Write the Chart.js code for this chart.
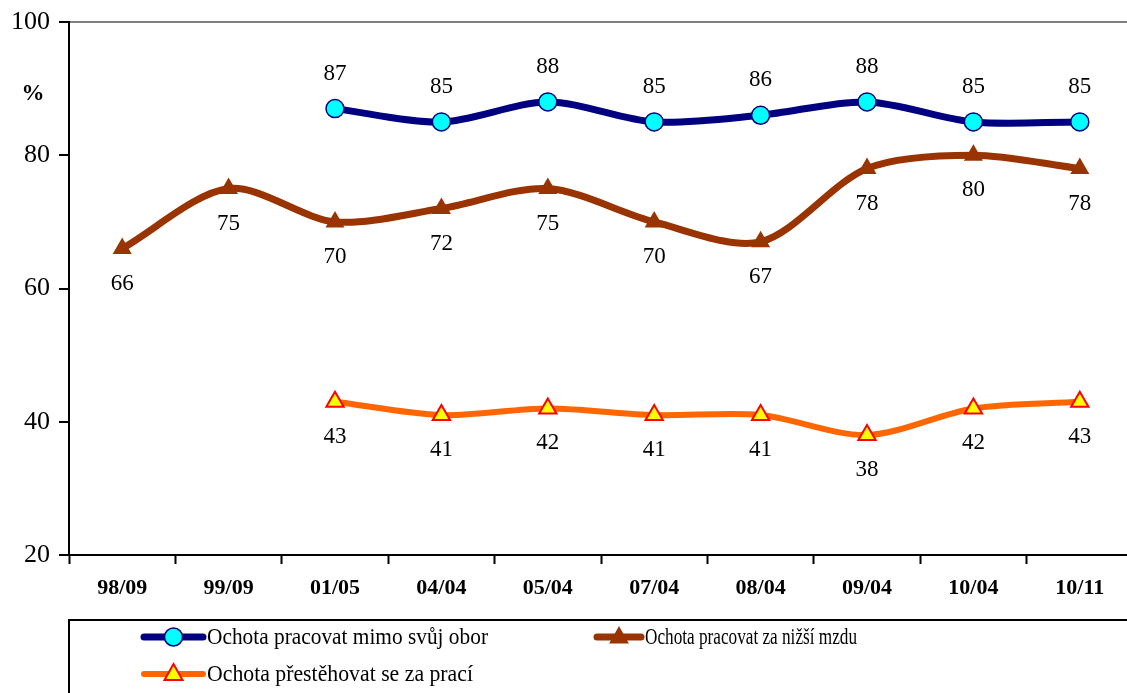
<!DOCTYPE html>
<html>
<head>
<meta charset="utf-8">
<script src="https://cdn.jsdelivr.net/npm/chart.js@4.4.1/dist/chart.umd.min.js"></script>
<style>
html,body{margin:0;padding:0;background:#fff;overflow:hidden;width:1127px;height:693px;}
canvas{display:block;}
</style>
</head>
<body>
<canvas id="c" width="1145" height="693"></canvas>
<script>
const categories = ['98/09','99/09','01/05','04/04','05/04','07/04','08/04','09/04','10/04','10/11'];
const mimoObor = [null, null, 87, 85, 88, 85, 86, 88, 85, 85];
const nizsiMzda = [66, 75, 70, 72, 75, 70, 67, 78, 80, 78];
const prestehovat = [null, null, 43, 41, 42, 41, 41, 38, 42, 43];
const seriesNames = ['Ochota pracovat mimo svůj obor', 'Ochota pracovat za nižší mzdu', 'Ochota přestěhovat se za prací'];
const yTicks = [20, 40, 60, 80, 100];

const SERIF = '"Liberation Serif", "Times New Roman", serif';

function drawMarker(ctx, style, x, y, r) {
  if (style === 'circle') {
    ctx.arc(x, y, r, 0, Math.PI * 2);
  } else {
    ctx.moveTo(x, y - r);
    ctx.lineTo(x + r * 0.9, y + r * 0.6);
    ctx.lineTo(x - r * 0.9, y + r * 0.6);
    ctx.closePath();
  }
}

const labelPlugin = {
  id: 'labels',
  afterDatasetsDraw(chart) {
    const ctx = chart.ctx;
    ctx.save();
    ctx.font = '23px ' + SERIF;
    ctx.fillStyle = '#000';
    ctx.textAlign = 'center';
    ctx.textBaseline = 'middle';
    chart.data.datasets.forEach((ds, i) => {
      const meta = chart.getDatasetMeta(i);
      meta.data.forEach((pt, j) => {
        const v = ds.data[j];
        if (v === null || v === undefined) return;
        const dy = ds.labelPos === 'above' ? -35 : 35;
        ctx.fillText(String(v), pt.x, pt.y + dy);
      });
    });
    ctx.font = 'bold 23px ' + SERIF;
    ctx.fillText('%', 33, 94);
    ctx.restore();
  }
};

const legendPlugin = {
  id: 'customLegend',
  afterDraw(chart) {
    const ctx = chart.ctx;
    ctx.save();
    ctx.strokeStyle = '#000';
    ctx.lineWidth = 2;
    ctx.strokeRect(69, 620, 1200, 120);
    const items = [
      {ds: 0, x1: 144, x2: 203, y: 637, tx: 207, tw: 281},
      {ds: 1, x1: 597, x2: 641, y: 637, tx: 645, tw: 212},
      {ds: 2, x1: 144, x2: 203, y: 674, tx: 207, tw: 266}
    ];
    items.forEach(it => {
      const ds = chart.data.datasets[it.ds];
      ctx.strokeStyle = ds.borderColor;
      ctx.lineWidth = ds.borderWidth;
      ctx.lineCap = 'round';
      ctx.beginPath();
      ctx.moveTo(it.x1, it.y);
      ctx.lineTo(it.x2, it.y);
      ctx.stroke();
      const cx = (it.x1 + it.x2) / 2;
      ctx.fillStyle = ds.pointBackgroundColor;
      ctx.strokeStyle = ds.pointBorderColor;
      ctx.lineWidth = ds.pointBorderWidth;
      ctx.beginPath();
      drawMarker(ctx, ds.pointStyle, cx, it.y, ds.pointRadius);
      ctx.fill();
      if (ds.pointBorderWidth > 0) ctx.stroke();
      ctx.font = '23px ' + SERIF;
      ctx.fillStyle = '#000';
      ctx.textAlign = 'left';
      ctx.textBaseline = 'middle';
      const name = seriesNames[it.ds];
      const w = ctx.measureText(name).width;
      const s = it.tw / w;
      ctx.save();
      ctx.translate(it.tx, it.y + 1);
      ctx.scale(s, 1);
      ctx.fillText(name, 0, 0);
      ctx.restore();
    });
    ctx.restore();
  }
};

new Chart(document.getElementById('c'), {
  type: 'line',
  data: {
    labels: categories,
    datasets: [
      {
        label: seriesNames[0], data: mimoObor, labelPos: 'above',
        borderColor: '#000080', borderWidth: 7,
        pointStyle: 'circle', pointRadius: 9, pointBorderWidth: 1.5,
        pointBackgroundColor: '#00FFFF', pointBorderColor: '#000080',
        tension: 0.3, spanGaps: true
      },
      {
        label: seriesNames[1], data: nizsiMzda, labelPos: 'below',
        borderColor: '#993300', borderWidth: 7,
        pointStyle: 'triangle', pointRadius: 11, pointBorderWidth: 0,
        pointBackgroundColor: '#993300', pointBorderColor: '#993300',
        tension: 0.3, spanGaps: true
      },
      {
        label: seriesNames[2], data: prestehovat, labelPos: 'below',
        borderColor: '#FF6600', borderWidth: 6,
        pointStyle: 'triangle', pointRadius: 10, pointBorderWidth: 2,
        pointBackgroundColor: '#FFFF00', pointBorderColor: '#FF0000',
        tension: 0.3, spanGaps: true
      }
    ]
  },
  options: {
    responsive: false,
    animation: false,
    devicePixelRatio: 1,
    layout: { padding: { top: 22, right: 9, left: 0, bottom: 88 } },
    plugins: { legend: { display: false }, tooltip: { enabled: false } },
    scales: {
      x: {
        offset: true,
        grid: { offset: true, display: true, color: 'rgba(0,0,0,0)', drawTicks: true, tickLength: 9, tickColor: '#000', tickWidth: 2 },
        border: { display: true, color: '#000', width: 2 },
        ticks: { color: '#000', font: { family: SERIF, size: 22, weight: 'bold' }, padding: 11, maxRotation: 0, autoSkip: false },
        afterFit(s) { s.height = 50; }
      },
      y: {
        min: 20, max: 100,
        afterBuildTicks(s) { s.ticks = yTicks.map(v => ({ value: v })); },
        grid: { color: ctx => (ctx.tick && ctx.tick.value === 100) ? '#808080' : 'rgba(0,0,0,0)', lineWidth: 2, drawTicks: true, tickLength: 10, tickColor: '#000', tickWidth: 2 },
        border: { display: true, color: '#000', width: 2 },
        ticks: { color: '#000', font: { family: SERIF, size: 26, lineHeight: 1 }, padding: 9 },
        afterFit(s) { s.width = 69; }
      }
    }
  },
  plugins: [labelPlugin, legendPlugin]
});
</script>
</body>
</html>
